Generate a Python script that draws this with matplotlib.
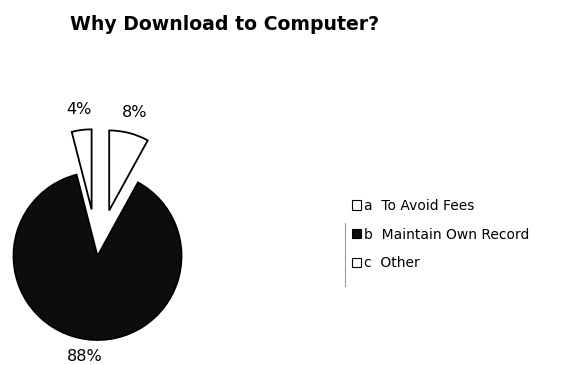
import matplotlib.pyplot as plt
from matplotlib.lines import Line2D

# --- data ---
title = "Why Download to Computer?"
keys = ["a", "b", "c"]
reasons = ["To Avoid Fees", "Maintain Own Record", "Other"]
percents = [8, 88, 4]
colors = ["white", "#0d0d0d", "white"]
explode = [47, 0, 47]   # pixels, pie uses data units

W, H = 586, 365
plt.rcParams["font.family"] = ["DejaVu Sans"]
fig = plt.figure(figsize=(W / 100, H / 100), dpi=100)

# axes in pixel units (y up)
ax = fig.add_axes([0, 0, 1, 1])
cx, cy, r = 97.5, H - 256, 84

wedges, texts = ax.pie(
    percents,
    labels=[f"{p}%" for p in percents],
    colors=colors,
    explode=explode,
    startangle=90,
    counterclock=False,
    center=(cx, cy),
    radius=r,
    labeldistance=1.2,
    wedgeprops=dict(edgecolor="black", linewidth=1.3),
    textprops=dict(fontsize=11.5),
    frame=True,
)
for t in texts:
    t.set_ha("center")
    t.set_va("center")
# the exploded slices come out a bit smaller in the original
for w, e in zip(wedges, explode):
    if e:
        w.set_radius(80)

ax.set_xlim(0, W)
ax.set_ylim(0, H)
ax.set_aspect("equal")
ax.axis("off")

fig.text(70 / W, 1 - 25 / H, title, fontsize=13.6, fontweight="bold", va="center", ha="left")

leg = ax.legend(
    wedges,
    [f"{k}  {s}" for k, s in zip(keys, reasons)],
    loc="upper left",
    bbox_to_anchor=(351.5 / W, 1 - 199 / H),
    borderpad=0,
    borderaxespad=0,
    frameon=False,
    fontsize=10,
    handlelength=0.65,
    handleheight=0.65,
    handletextpad=0.25,
    labelspacing=1.06,
)
for h in leg.legend_handles:
    h.set_linewidth(0.8)

# faint scan line next to legend
fig.add_artist(Line2D([345 / W, 345 / W], [1 - 223 / H, 1 - 286 / H],
                      transform=fig.transFigure, color="#9a9a9a", lw=0.8))

fig.savefig("out.png", dpi=100)
